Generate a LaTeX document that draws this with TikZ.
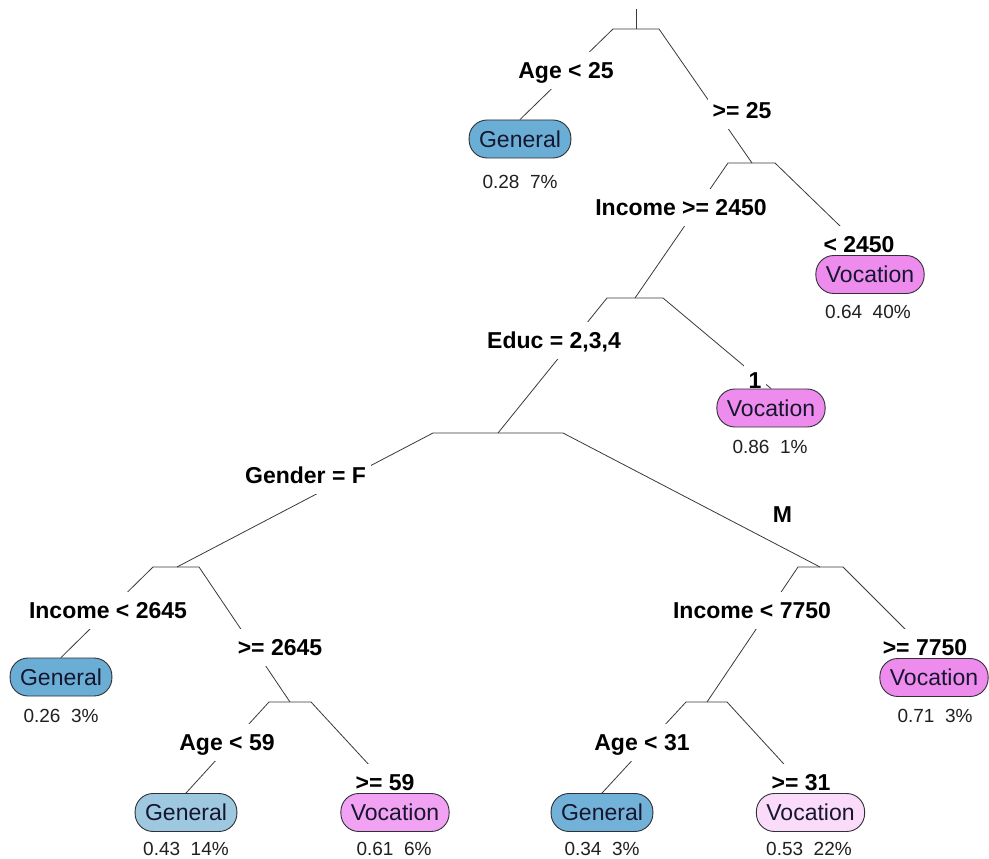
\documentclass[tikz,border=0pt]{standalone}
\usepackage{fontspec}
\setmainfont{Liberation Sans}
\usepackage{tikz}
\usetikzlibrary{backgrounds}
\definecolor{gendark}{HTML}{6AAED6}
\definecolor{genmid}{HTML}{72B2D8}
\definecolor{genlight}{HTML}{9DC8E0}
\definecolor{vocdark}{HTML}{EE8CEE}
\definecolor{vocmid}{HTML}{F2A2F2}
\definecolor{voclight}{HTML}{FADCFA}
\definecolor{leafink}{HTML}{16162E}
\definecolor{leafedge}{HTML}{303036}
\definecolor{branchink}{HTML}{3A3A3A}
\definecolor{statink}{HTML}{202020}
\tikzstyle{splitlab} = [fill=white, anchor=base, inner xsep=5pt, inner ysep=9pt, text height=17pt, text depth=2pt, font=\fontsize{23}{26}\selectfont\bfseries]
\tikzstyle{leaf} = [draw=leafedge, line width=0.9pt, rounded corners=18pt, minimum height=38pt, inner xsep=10pt, text=leafink, font=\fontsize{23}{26}\selectfont]
\tikzstyle{stat} = [anchor=base, inner sep=0pt, text=statink, font=\fontsize{19}{22}\selectfont]
\tikzstyle{branch} = [draw=branchink, line width=0.8pt]

\begin{document}
\begin{tikzpicture}[x=1pt, y=-1pt]
    \useasboundingbox (0,0) rectangle (989,859);
    % split bars
    \coordinate (top) at (636,9);
    \coordinate (r) at (636,29);  \coordinate (rl) at (613,29);  \coordinate (rr) at (659,29);
    \coordinate (s1) at (752,163); \coordinate (s1l) at (728,163); \coordinate (s1r) at (775,163);
    \coordinate (s2) at (635,298); \coordinate (s2l) at (607,298); \coordinate (s2r) at (663,298);
    \coordinate (s3) at (498,433); \coordinate (s3l) at (433,433); \coordinate (s3r) at (563,433);
    \coordinate (s4) at (177,567); \coordinate (s4l) at (153,567); \coordinate (s4r) at (199,567);
    \coordinate (s5) at (290,702); \coordinate (s5l) at (269,702); \coordinate (s5r) at (311,702);
    \coordinate (s6) at (820,567); \coordinate (s6l) at (798,567); \coordinate (s6r) at (843,567);
    \coordinate (s7) at (707,702); \coordinate (s7l) at (686,702); \coordinate (s7r) at (727,702);

    \draw (566,78) node[splitlab] (age25) {Age < 25};
    \draw (742,118) node[splitlab] (ge25) {>= 25};
    \draw (681,215) node[splitlab] (inc2450) {Income >= 2450};
    \draw (859,252) node[splitlab] (lt2450) {< 2450};
    \draw (554,348) node[splitlab] (educ) {Educ = 2,3,4};
    \draw (755,388) node[splitlab] (educone) {1};
    \draw (305.5,483) node[splitlab] (gender) {Gender = F};
    \draw (782.5,522) node[splitlab] (male) {M};
    \draw (108,618) node[splitlab] (inc2645) {Income < 2645};
    \draw (280,655) node[splitlab] (ge2645) {>= 2645};
    \draw (227,750) node[splitlab] (age59) {Age < 59};
    \draw (385,790) node[splitlab] (ge59) {>= 59};
    \draw (752,618) node[splitlab] (inc7750) {Income < 7750};
    \draw (925,655) node[splitlab] (ge7750) {>= 7750};
    \draw (642,750) node[splitlab] (age31) {Age < 31};
    \draw (801,790) node[splitlab] (ge31) {>= 31};

    \draw (520,139) node[leaf, fill=gendark] (gA) {General};
    \draw (870,274.5) node[leaf, fill=vocdark] (vB) {Vocation};
    \draw (771,408) node[leaf, fill=vocdark] (vC) {Vocation};
    \draw (61,677) node[leaf, fill=gendark] (gD) {General};
    \draw (186,812.5) node[leaf, fill=genlight] (gE) {General};
    \draw (395,812.5) node[leaf, fill=vocmid] (vF) {Vocation};
    \draw (602,812.5) node[leaf, fill=genmid] (gG) {General};
    \draw (810.5,812.5) node[leaf, fill=voclight] (vH) {Vocation};
    \draw (934,677.5) node[leaf, fill=vocdark] (vI) {Vocation};

    \node[stat] (stA) at (520,188) {0.28\ \ 7\%};
    \node[stat] (stB) at (868,318) {0.64\ \ 40\%};
    \node[stat] (stC) at (770,453) {0.86\ \ 1\%};
    \node[stat] (stD) at (61,722) {0.26\ \ 3\%};
    \node[stat] (stE) at (186,855) {0.43\ \ 14\%};
    \node[stat] (stF) at (394,855) {0.61\ \ 6\%};
    \node[stat] (stG) at (602,855) {0.34\ \ 3\%};
    \node[stat] (stH) at (809,855) {0.53\ \ 22\%};
    \node[stat] (stI) at (935,722) {0.71\ \ 3\%};

    \begin{scope}[on background layer]
        \fill[white] (0,0) rectangle (989,859);
        \draw[branch] (top) -- (r);
        \draw[branch] (gA.north) -- (rl) -- (rr) -- (s1);
        \draw[branch] (s2) -- (s1l) -- (s1r) -- (vB.north);
        \draw[branch] (s3) -- (s2l) -- (s2r) -- (vC.north);
        \draw[branch] (s4) -- (s3l) -- (s3r) -- (s6);
        \draw[branch] (gD.north) -- (s4l) -- (s4r) -- (s5);
        \draw[branch] (gE.north) -- (s5l) -- (s5r) -- (vF.north);
        \draw[branch] (s7) -- (s6l) -- (s6r) -- (vI.north);
        \draw[branch] (gG.north) -- (s7l) -- (s7r) -- (vH.north);
    \end{scope}
\end{tikzpicture}
\end{document}
